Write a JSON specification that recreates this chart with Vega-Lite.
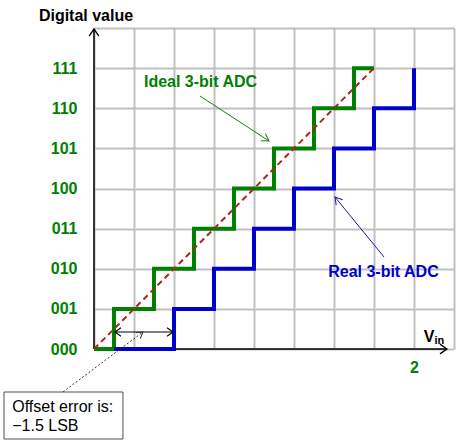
{
  "$schema": "https://vega.github.io/schema/vega-lite/v6.json",
  "width": 360,
  "height": 321,
  "autosize": {"type": "none"},
  "padding": {"left": 94, "top": 28, "right": 11, "bottom": 97},
  "background": "white",
  "config": {"view": {"stroke": null}, "font": "Liberation Sans"},
  "datasets": {
    "ideal": [
      {"v": 0, "lvl": 0}, {"v": 0.125, "lvl": 1}, {"v": 0.375, "lvl": 2}, {"v": 0.625, "lvl": 3},
      {"v": 0.875, "lvl": 4}, {"v": 1.125, "lvl": 5}, {"v": 1.375, "lvl": 6}, {"v": 1.625, "lvl": 7},
      {"v": 1.75, "lvl": 7}
    ],
    "real": [
      {"v": 0.125, "lvl": 0}, {"v": 0.5, "lvl": 1}, {"v": 0.75, "lvl": 2}, {"v": 1.0, "lvl": 3},
      {"v": 1.25, "lvl": 4}, {"v": 1.5, "lvl": 5}, {"v": 1.75, "lvl": 6}, {"v": 2.0, "lvl": 7}
    ],
    "segments": [
      {"id": "xaxis", "v": 0, "lvl": 0, "v2": 2.206, "lvl2": 0},
      {"id": "yaxis", "v": 0, "lvl": 0, "v2": 0, "lvl2": 7.975},
      {"id": "diag", "v": 0, "lvl": 0, "v2": 1.75, "lvl2": 7},
      {"id": "idealarrow", "v": 0.6625, "lvl": 6.305, "v2": 1.094, "lvl2": 5.184},
      {"id": "realarrow", "v": 1.8125, "lvl": 2.293, "v2": 1.506, "lvl2": 3.788},
      {"id": "pointer", "v": -0.194, "lvl": -1.072, "v2": 0.306, "lvl2": 0.424},
      {"id": "offset", "v": 0.131, "lvl": 0.424, "v2": 0.494, "lvl2": 0.424}
    ],
    "heads": [
      {"id": "xaxis", "v": 2.206, "lvl": 0},
      {"id": "yaxis", "v": 0, "lvl": 7.975},
      {"id": "idealarrow", "v": 1.094, "lvl": 5.184},
      {"id": "realarrow", "v": 1.506, "lvl": 3.788},
      {"id": "pointer", "v": 0.306, "lvl": 0.424},
      {"id": "offsetL", "v": 0.131, "lvl": 0.424},
      {"id": "offsetR", "v": 0.494, "lvl": 0.424}
    ],
    "box": [{"v": -0.5625, "v2": 0.181, "lvl": -1.072, "lvl2": -2.243}],
    "labels": [
      {"id": "title", "text": "Digital value", "v": -0.05, "lvl": 8.174},
      {"id": "ideal", "text": "Ideal 3-bit ADC", "v": 0.666, "lvl": 6.53},
      {"id": "real", "text": "Real 3-bit ADC", "v": 1.809, "lvl": 1.794},
      {"id": "V", "text": "V", "v": 2.094, "lvl": 0.174},
      {"id": "in", "text": "in", "v": 2.128, "lvl": 0.125},
      {"id": "box1", "text": "Offset error is:", "v": -0.511, "lvl": -1.57},
      {"id": "box2", "text": "−1.5 LSB", "v": -0.511, "lvl": -2.044}
    ]
  },
  "encoding": {
    "x": {
      "field": "v", "type": "quantitative",
      "scale": {"domain": [0, 2.25], "nice": false, "zero": false},
      "axis": {
        "title": null, "values": [0, 0.25, 0.5, 0.75, 1, 1.25, 1.5, 1.75, 2, 2.25],
        "labelExpr": "datum.value == 2 ? '2' : ''", "domain": false, "ticks": false,
        "grid": true, "gridColor": "#c0c0c0", "gridWidth": 2, "gridOpacity": 1,
        "labelFont": "Liberation Sans", "labelFontSize": 16, "labelFontWeight": "bold",
        "labelColor": "#008000", "labelPadding": 10, "labelFlush": false, "labelOverlap": false
      }
    },
    "y": {
      "field": "lvl", "type": "quantitative",
      "scale": {"domain": [0, 8], "nice": false, "zero": false},
      "axis": {
        "title": null, "values": [0, 1, 2, 3, 4, 5, 6, 7, 8],
        "labelExpr": "datum.value >= 8 ? '' : '' + (floor(datum.value/4)%2) + (floor(datum.value/2)%2) + (datum.value%2)",
        "domain": false, "ticks": false,
        "grid": true, "gridColor": "#c0c0c0", "gridWidth": 2, "gridOpacity": 1,
        "labelFont": "Liberation Sans", "labelFontSize": 16, "labelFontWeight": "bold",
        "labelColor": "#008000", "labelPadding": 17, "labelFlush": false, "labelOverlap": false
      }
    }
  },
  "layer": [
    {
      "data": {"name": "box"},
      "mark": {"type": "rect", "fill": "white", "stroke": "#505050", "strokeWidth": 1},
      "encoding": {"x2": {"field": "v2"}, "y2": {"field": "lvl2"}}
    },
    {
      "data": {"name": "segments"},
      "transform": [{"filter": "datum.id == 'xaxis' || datum.id == 'yaxis'"}],
      "mark": {"type": "rule", "color": "black", "strokeWidth": 1.5},
      "encoding": {"x2": {"field": "v2"}, "y2": {"field": "lvl2"}}
    },
    {
      "data": {"name": "ideal"},
      "mark": {"type": "line", "interpolate": "step-after", "color": "#008000", "strokeWidth": 4, "strokeJoin": "miter", "strokeCap": "butt"}
    },
    {
      "data": {"name": "real"},
      "mark": {"type": "line", "interpolate": "step-after", "color": "#0000cc", "strokeWidth": 4, "strokeJoin": "miter", "strokeCap": "butt"}
    },
    {
      "data": {"name": "segments"},
      "transform": [{"filter": "datum.id == 'diag'"}],
      "mark": {"type": "rule", "color": "#b22222", "strokeWidth": 2, "strokeDash": [6, 4]},
      "encoding": {"x2": {"field": "v2"}, "y2": {"field": "lvl2"}}
    },
    {
      "data": {"name": "segments"},
      "transform": [{"filter": "datum.id == 'idealarrow'"}],
      "mark": {"type": "rule", "color": "#1a7a1a", "strokeWidth": 1},
      "encoding": {"x2": {"field": "v2"}, "y2": {"field": "lvl2"}}
    },
    {
      "data": {"name": "segments"},
      "transform": [{"filter": "datum.id == 'realarrow'"}],
      "mark": {"type": "rule", "color": "#1a1aa0", "strokeWidth": 1},
      "encoding": {"x2": {"field": "v2"}, "y2": {"field": "lvl2"}}
    },
    {
      "data": {"name": "segments"},
      "transform": [{"filter": "datum.id == 'pointer'"}],
      "mark": {"type": "rule", "color": "#333333", "strokeWidth": 1, "strokeDash": [2, 2]},
      "encoding": {"x2": {"field": "v2"}, "y2": {"field": "lvl2"}}
    },
    {
      "data": {"name": "segments"},
      "transform": [{"filter": "datum.id == 'offset'"}],
      "mark": {"type": "rule", "color": "black", "strokeWidth": 1.2},
      "encoding": {"x2": {"field": "v2"}, "y2": {"field": "lvl2"}}
    },
    {
      "data": {"name": "heads"},
      "transform": [{"filter": "datum.id == 'xaxis'"}],
      "mark": {"type": "point", "shape": "M-1,-0.7L0,0L-1,0.7", "filled": false, "stroke": "black", "strokeWidth": 1.3, "size": 196, "opacity": 1, "angle": 0}
    },
    {
      "data": {"name": "heads"},
      "transform": [{"filter": "datum.id == 'yaxis'"}],
      "mark": {"type": "point", "shape": "M-1,-0.7L0,0L-1,0.7", "filled": false, "stroke": "black", "strokeWidth": 1.3, "size": 196, "opacity": 1, "angle": 270}
    },
    {
      "data": {"name": "heads"},
      "transform": [{"filter": "datum.id == 'idealarrow'"}],
      "mark": {"type": "point", "shape": "M-1,-0.6L0,0L-1,0.6", "filled": false, "stroke": "#1a7a1a", "strokeWidth": 1, "size": 196, "opacity": 1, "angle": 33}
    },
    {
      "data": {"name": "heads"},
      "transform": [{"filter": "datum.id == 'realarrow'"}],
      "mark": {"type": "point", "shape": "M-1,-0.6L0,0L-1,0.6", "filled": false, "stroke": "#1a1aa0", "strokeWidth": 1, "size": 196, "opacity": 1, "angle": 230}
    },
    {
      "data": {"name": "heads"},
      "transform": [{"filter": "datum.id == 'pointer'"}],
      "mark": {"type": "point", "shape": "M-1,-0.6L0,0L-1,0.6", "filled": false, "stroke": "#333333", "strokeWidth": 1, "size": 144, "opacity": 1, "angle": -37}
    },
    {
      "data": {"name": "heads"},
      "transform": [{"filter": "datum.id == 'offsetL'"}],
      "mark": {"type": "point", "shape": "M-1,-0.7L0,0L-1,0.7", "filled": false, "stroke": "black", "strokeWidth": 1.2, "size": 144, "opacity": 1, "angle": 180}
    },
    {
      "data": {"name": "heads"},
      "transform": [{"filter": "datum.id == 'offsetR'"}],
      "mark": {"type": "point", "shape": "M-1,-0.7L0,0L-1,0.7", "filled": false, "stroke": "black", "strokeWidth": 1.2, "size": 144, "opacity": 1, "angle": 0}
    },
    {
      "data": {"name": "labels"},
      "transform": [{"filter": "datum.id == 'title' || datum.id == 'V'"}],
      "mark": {"type": "text", "font": "Liberation Sans", "fontSize": 16, "fontWeight": "bold", "color": "black", "align": "center", "baseline": "alphabetic"},
      "encoding": {"text": {"field": "text"}}
    },
    {
      "data": {"name": "labels"},
      "transform": [{"filter": "datum.id == 'in'"}],
      "mark": {"type": "text", "font": "Liberation Sans", "fontSize": 11, "fontWeight": "bold", "color": "black", "align": "left", "baseline": "alphabetic"},
      "encoding": {"text": {"field": "text"}}
    },
    {
      "data": {"name": "labels"},
      "transform": [{"filter": "datum.id == 'ideal'"}],
      "mark": {"type": "text", "font": "Liberation Sans", "fontSize": 16, "fontWeight": "bold", "color": "#008000", "align": "center", "baseline": "alphabetic"},
      "encoding": {"text": {"field": "text"}}
    },
    {
      "data": {"name": "labels"},
      "transform": [{"filter": "datum.id == 'real'"}],
      "mark": {"type": "text", "font": "Liberation Sans", "fontSize": 16, "fontWeight": "bold", "color": "#0000cc", "align": "center", "baseline": "alphabetic"},
      "encoding": {"text": {"field": "text"}}
    },
    {
      "data": {"name": "labels"},
      "transform": [{"filter": "datum.id == 'box1' || datum.id == 'box2'"}],
      "mark": {"type": "text", "font": "Liberation Sans", "fontSize": 16, "color": "black", "align": "left", "baseline": "alphabetic"},
      "encoding": {"text": {"field": "text"}}
    }
  ]
}
